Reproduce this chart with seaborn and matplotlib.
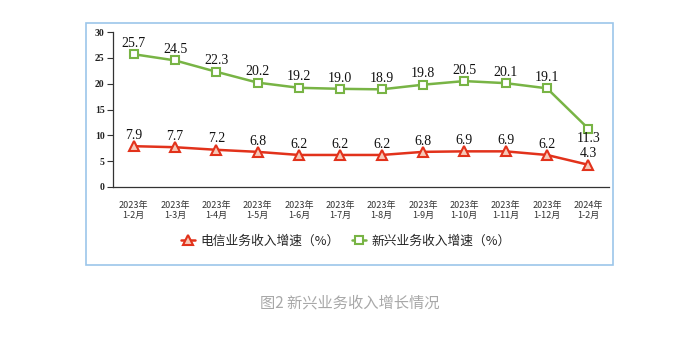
import matplotlib
matplotlib.use("Agg")
import matplotlib.pyplot as plt
import seaborn as sns
import pandas as pd
import numpy as np
from matplotlib.patches import Rectangle

periods = ["2023年\n1-2月", "2023年\n1-3月", "2023年\n1-4月", "2023年\n1-5月", "2023年\n1-6月",
           "2023年\n1-7月", "2023年\n1-8月", "2023年\n1-9月", "2023年\n1-10月", "2023年\n1-11月",
           "2023年\n1-12月", "2024年\n1-2月"]
telecom = [7.9, 7.7, 7.2, 6.8, 6.2, 6.2, 6.2, 6.8, 6.9, 6.9, 6.2, 4.3]
emerging = [25.7, 24.5, 22.3, 20.2, 19.2, 19.0, 18.9, 19.8, 20.5, 20.1, 19.1, 11.3]
yticks = [0, 5, 10, 15, 20, 25, 30]
name_tel = "电信业务收入增速（%）"
name_new = "新兴业务收入增速（%）"
caption = "图2 新兴业务收入增长情况"

sns.set_style("white")
plt.rcParams['font.family'] = ['Noto Sans CJK SC', 'DejaVu Sans']

fig = plt.figure(figsize=(6.91, 3.46), dpi=100)
ax = fig.add_axes([113/691, 1-187/346, (609-113)/691, (187-32)/346])

x = np.arange(len(periods))
df = pd.DataFrame({"x": np.concatenate([x, x]),
                   "v": telecom + emerging,
                   "s": [name_tel]*len(x) + [name_new]*len(x)})
red = "#e2321b"
green = "#78b445"
sns.lineplot(data=df[df.s == name_tel], x="x", y="v", ax=ax, color=red, lw=1.8,
             marker="^", markersize=7, markerfacecolor="#f6c9b8", markeredgecolor=red,
             markeredgewidth=1.5, label=name_tel)
sns.lineplot(data=df[df.s == name_new], x="x", y="v", ax=ax, color=green, lw=1.8,
             marker="s", markersize=5.5, markerfacecolor="white", markeredgecolor=green,
             markeredgewidth=1.5, label=name_new)

serif = ['Liberation Serif', 'DejaVu Serif']
for i, v in enumerate(telecom):
    ax.annotate(f"{v:.1f}", (i, v), xytext=(0, 7.8), textcoords="offset points",
                ha="center", va="center", fontsize=10, family=serif, color="#111")
for i, v in enumerate(emerging):
    off = -7.2 if i == len(emerging) - 1 else 7.8
    ax.annotate(f"{v:.1f}", (i, v), xytext=(0, off), textcoords="offset points",
                ha="center", va="center", fontsize=10, family=serif, color="#111")

ax.set_xlim(-0.5, len(periods) - 0.5)
ax.set_ylim(0, 30)
ax.set_yticks(yticks)
ax.set_yticklabels([str(t) for t in yticks], family=serif, fontsize=7, fontweight="bold", color="#222")
ax.set_xticks(x)
ax.set_xticklabels(periods, fontsize=6.5, color="#333", linespacing=1.2)
ax.set_xticks(np.arange(-0.5, len(periods)), minor=True)
ax.tick_params(axis="x", which="major", length=0, pad=10)
ax.tick_params(axis="x", which="minor", length=4, width=0.8, color="#333", direction="out")
ax.tick_params(axis="y", length=4, width=0.8, color="#333", direction="out", pad=2)
ax.tick_params(bottom=True, left=True)
for s in ["top", "right"]:
    ax.spines[s].set_visible(False)
for s in ["left", "bottom"]:
    ax.spines[s].set_color("#333")
    ax.spines[s].set_linewidth(0.9)
ax.set_xlabel("")
ax.set_ylabel("")

ax.legend(loc="center", bbox_to_anchor=(346/691, 1-241/346), bbox_transform=fig.transFigure,
          ncol=2, frameon=False, handlelength=1.1, handletextpad=0.4, columnspacing=1.0,
          prop={'family': ['Noto Sans CJK SC', 'DejaVu Sans'], 'size': 9.2})

fig.patches.append(Rectangle((86/691, 1-265/346), (613-86)/691, (265-23)/346,
                             transform=fig.transFigure, fill=False, edgecolor="#9cc6ea", lw=1.2))
fig.text(350/691, 1-303/346, caption, ha="center", va="center", fontsize=11, color="#a8a8a8")

fig.savefig("out.png", dpi=100)
